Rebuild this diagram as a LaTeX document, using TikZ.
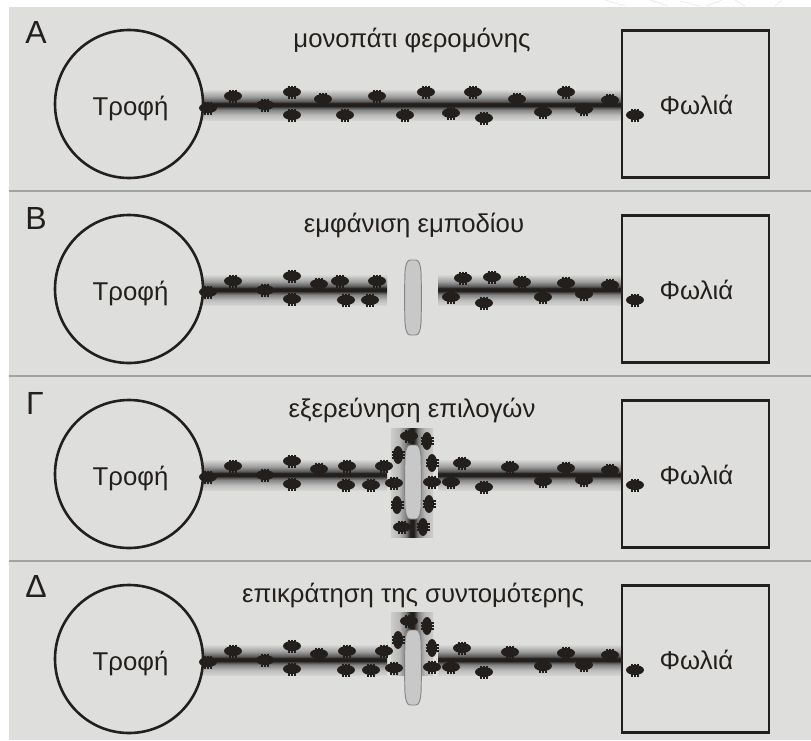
\documentclass[tikz,border=0pt]{standalone}
\usepackage{fontspec}
\setmainfont{Liberation Sans}
\definecolor{panelbg}{HTML}{DEDEDC}
\definecolor{inkdark}{HTML}{231F1C}
\definecolor{rulegray}{HTML}{A2A2A0}
\definecolor{barrier}{HTML}{C8C8C8}
\definecolor{barrieredge}{HTML}{858585}
% Pheromone density across a trail: faint at the edge, dark in a narrow core
\pgfdeclareverticalshading{trailv}{100bp}{
  color(0bp)=(panelbg); color(25bp)=(panelbg!95!black); color(33bp)=(black!26);
  color(42bp)=(black!48); color(46bp)=(black!70); color(48bp)=(inkdark); color(53bp)=(inkdark);
  color(56bp)=(black!65); color(64bp)=(black!38); color(75bp)=(panelbg!97!black); color(100bp)=(panelbg)}
\pgfdeclarehorizontalshading{trailh}{100bp}{
  color(0bp)=(panelbg); color(25bp)=(panelbg!92!black); color(35bp)=(black!28);
  color(43bp)=(black!52); color(48bp)=(inkdark); color(52bp)=(inkdark);
  color(57bp)=(black!52); color(65bp)=(black!28); color(75bp)=(panelbg!92!black); color(100bp)=(panelbg)}
\tikzset{
  x=0.75pt, y=-0.75pt,
  ruleline/.style={draw=rulegray, line width=2.2pt},
  outline/.style={draw=inkdark, line width=1.95pt},
  word/.style={text=inkdark, font=\fontsize{19.3}{22}\selectfont, inner sep=0pt},
  letter/.style={text=inkdark, font=\fontsize{24}{26}\selectfont, inner sep=0pt},
  obstacle/.style={fill=barrier, draw=barrieredge, line width=0.7pt},
  insect/.pic={
    \fill[inkdark] (0,0) ellipse [x radius=9, y radius=5];
    \foreach \lx in {-3.2,0,3.2}
      \draw[inkdark, line width=1.2pt] (\lx,-6.5) -- (\lx,6.5);
  }
}
% Horizontal trail segment centred on row #3, from column #1 to column #2
\newcommand{\trailpiece}[3]{\shade[shading=trailv] (#1,#3-15) rectangle (#2,#3+15);}
% Grey barrier with slightly bulged sides, between rows #1 and #2
\newcommand{\barrierat}[2]{
  \draw[obstacle] (405,#1+12) .. controls (405.5,#1+5) and (407,#1) .. (410,#1) -- (416,#1)
    .. controls (419,#1) and (420.5,#1+5) .. (421,#1+12)
    .. controls (421.5,#1+25) and (421.5,#2-25) .. (421,#2-12)
    .. controls (420.5,#2-5) and (419,#2) .. (416,#2) -- (410,#2)
    .. controls (407,#2) and (405.5,#2-5) .. (405,#2-12)
    .. controls (404.5,#2-25) and (404.5,#1+25) .. (405,#1+12) -- cycle;}
\newcommand{\crawlers}[1]{\foreach \ax/\ay in {#1} \pic at (\ax,\ay) {insect};}
\newcommand{\climbers}[1]{\foreach \ax/\ay in {#1} \pic[rotate=90] at (\ax,\ay) {insect};}
\begin{document}
\begin{tikzpicture}
\useasboundingbox (0,0) rectangle (811,740);
\fill[white] (0,0) rectangle (811,740);
\fill[panelbg] (9,7) rectangle (811,740);

% Faint marks along the top margin
\draw[black!8, line width=0.6pt] (605,0) -- (625,6) (650,0) -- (668,6) (680,1) -- (700,6)
  (706,6) -- (722,0) (735,0) -- (745,6) (775,6) -- (782,0);

% Panel separators
\coordinate (sepAl) at (9,191);  \coordinate (sepAr) at (811,191);
\coordinate (sepBl) at (9,376);  \coordinate (sepBr) at (811,376);
\coordinate (sepCl) at (9,561);  \coordinate (sepCr) at (811,561);
\draw[ruleline] (sepAl) -- (sepAr);
\draw[ruleline] (sepBl) -- (sepBr);
\draw[ruleline] (sepCl) -- (sepCr);

% Pheromone trails
\trailpiece{203}{622}{105}
\trailpiece{203}{387}{290}
\trailpiece{438}{622}{290}
\trailpiece{203}{387}{475}
\trailpiece{438}{622}{475}
\trailpiece{203}{387}{660}
\trailpiece{438}{622}{660}
\shade[shading=trailh] (391,428) rectangle (433,537);
\shade[shading=trailh] (391,612) rectangle (433,675);

% Barriers
\barrierat{260}{335}
\barrierat{445}{519}
\barrierat{630}{705}

% Ants on the trails
\crawlers{208/108,233/96,265/105,292/92,292/115,323/99,345/115,377/96,405/115,426/92,451/113,473/92,484/118,517/99,543/112,566/92,584/109,610/100,635/115}
\crawlers{208/292,233/281,265/290,292/276,292/299,319/284,340/281,346/300,370/300,377/281,463/278,492/277,451/297,484/303,522/282,543/297,566/283,584/294,610/285,635/300}
\crawlers{208/477,233/466,265/475,292/461,292/484,319/469,347/466,346/485,371/485,384/466,394/483,402/527,409/436,432/482,451/482,462/463,484/487,510/467,543/481,566/468,584/480,610/470,635/485}
\climbers{398/455,397/505,427/441,432/463,429/504,423/527}
\crawlers{208/662,233/651,265/660,292/646,292/669,319/654,347/651,346/670,371/670,384/651,394/668,409/621,432/667,451/667,462/648,484/672,510/652,543/666,566/653,584/665,610/655,635/670}
\climbers{398/640,427/626,432/648}

% Food sources and nests
\foreach \row/\tag in {104/A,289/B,474/C,659/D} {
  \node[circle, outline, minimum size=111pt, inner sep=0pt] (food\tag) at (129,\row) {};
  \node[outline, minimum size=110.5pt, inner sep=0pt] (nest\tag) at (695.5,\row) {};
  \node[word] (foodtext\tag) at (130.5,\row+4) {Τροφή};
  \node[word] (nesttext\tag) at (696.5,\row+1) {Φωλιά};
}

% Panel letters and captions
\node[letter] (letterA) at (36,32) {Α};
\node[letter] (letterB) at (36,218) {Β};
\node[letter] (letterC) at (35,403) {Γ};
\node[letter] (letterD) at (36,586) {Δ};
\node[word] (capA) at (412,40) {μονοπάτι φερομόνης};
\node[word] (capB) at (414,225) {εμφάνιση εμποδίου};
\node[word] (capC) at (412,410) {εξερεύνηση επιλογών};
\node[word] (capD) at (413,595) {επικράτηση της συντομότερης};
\end{tikzpicture}
\end{document}
